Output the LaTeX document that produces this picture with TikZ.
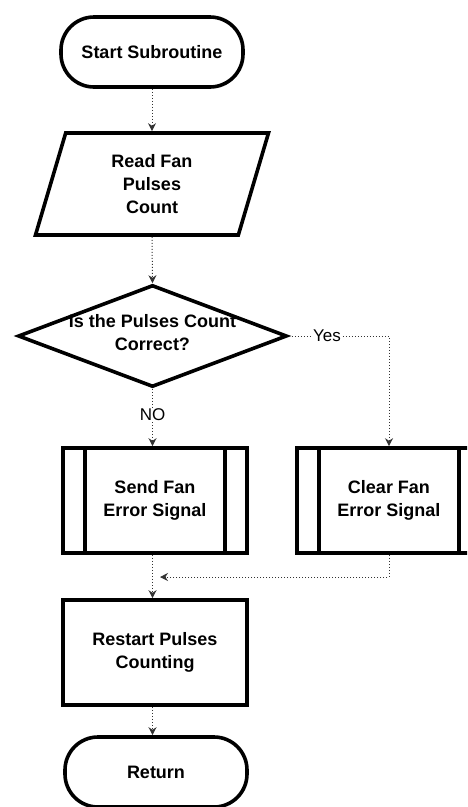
\documentclass[tikz,border=0pt]{standalone}
\usepackage{fontspec}
\setmainfont{Liberation Sans}
\usetikzlibrary{shapes.geometric,shapes.misc,arrows.meta}
\begin{document}
\begin{tikzpicture}[x=1pt,y=-1pt,
  txt/.style={font=\bfseries\fontsize{18}{23}\selectfont, align=center, text=black},
  shp/.style={draw=black, line width=3.6pt, txt},
  term/.style={shp, rectangle, rounded corners=33pt, minimum width=182pt, minimum height=70pt, inner sep=0pt},
  io/.style={shp, trapezium, trapezium left angle=63, trapezium right angle=117, trapezium stretches body, minimum width=233pt, minimum height=102pt, inner sep=0pt},
  dec/.style={draw=black, line width=3.6pt, diamond, minimum width=269pt, minimum height=102pt, inner sep=0pt},
  proc/.style={shp, rectangle, minimum width=184pt, minimum height=105pt, inner sep=0pt},
  conn/.style={draw=black!80, line width=1pt, dotted, -{Stealth[length=8pt,width=8pt]}},
  lab/.style={font=\fontsize{17}{18}\selectfont, text=black, fill=white, inner sep=1pt}
]
\useasboundingbox (0,0) rectangle (467,807);
\clip (0,0) rectangle (467,807);
\fill[white] (0,0) rectangle (467,807);

\node[term] (start) at (152,52) {Start Subroutine};
\node[io] (read) at (152,184) {Read Fan\\Pulses\\Count};
\node[dec] (decide) at (152.5,336) {};
\node[txt] (dtext) at (152.5,333) {Is the Pulses Count\\Correct?};
\node[proc] (send) at (155,500.5) {Send Fan\\Error Signal};
\node[proc] (clear) at (389,500.5) {Clear Fan\\Error Signal};
\node[proc] (restart) at (155,652.5) {Restart Pulses\\Counting};
\node[term] (ret) at (156,772) {Return};

% inner lines of predefined process boxes
\foreach \n in {send,clear}{
  \draw[line width=3.6pt] ([xshift=24pt]\n.north west) -- ([xshift=24pt]\n.south west);
  \draw[line width=3.6pt] ([xshift=-24pt]\n.north east) -- ([xshift=-24pt]\n.south east);
}

% connectors
\draw[conn] (start.south) -- (read.north -| start.south);
\draw[conn] (read.south -| start.south) -- (decide.north);
\draw[conn] (decide.south) -- node[lab, pos=0.45] (no) {NO} (send.north -| decide.south);
\draw[conn] (decide.east) -- node[lab, pos=0.38] (yes) {Yes} (decide.east -| clear.north) -- (clear.north);
\coordinate (joint) at (clear.south |- 0,577);
\coordinate (merge) at (160,577);
\draw[conn] (clear.south) -- (joint) -- (merge);
\draw[conn] (send.south -| decide.south) -- (restart.north -| decide.south);
\draw[conn] (restart.south -| decide.south) -- (ret.north -| decide.south);
\end{tikzpicture}
\end{document}
